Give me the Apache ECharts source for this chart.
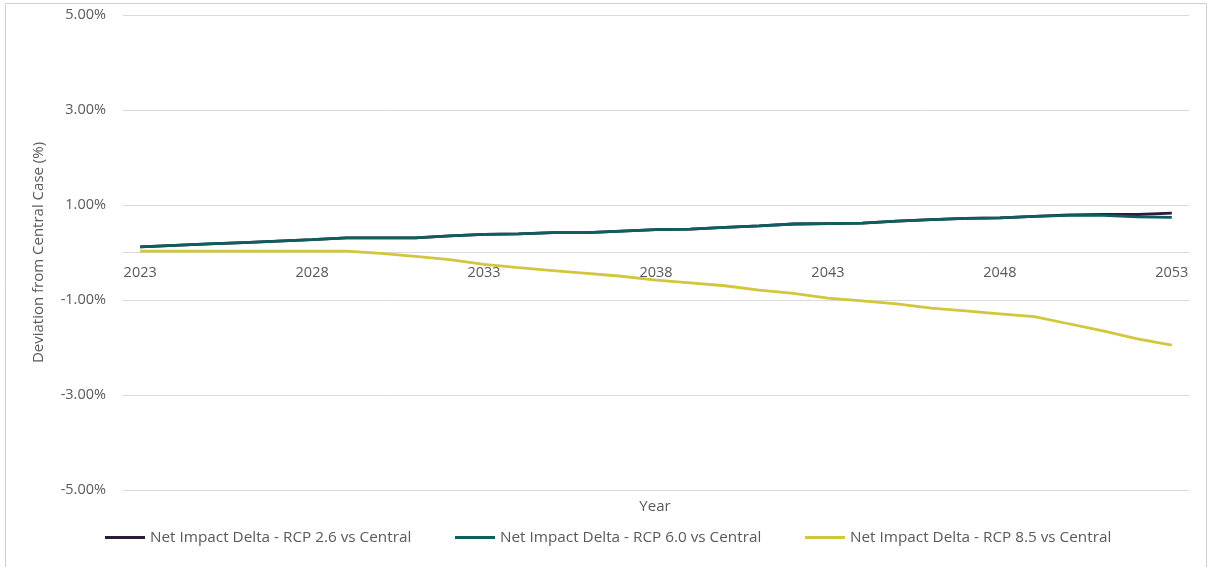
<!DOCTYPE html>
<html>
<head>
<meta charset="utf-8">
<script src="https://cdn.jsdelivr.net/npm/echarts@6/dist/echarts.min.js"></script>
<style>html,body{margin:0;padding:0;background:#fff}#c{width:1211px;height:567px}</style>
</head>
<body>
<div id="c"></div>
<script>
const years = [];
for (let y = 2023; y <= 2053; y++) years.push(String(y));
const seriesNames = ['Net Impact Delta - RCP 2.6 vs Central','Net Impact Delta - RCP 6.0 vs Central','Net Impact Delta - RCP 8.5 vs Central'];
const rcp26 = [0.12,0.15,0.18,0.21,0.24,0.27,0.31,0.31,0.31,0.35,0.38,0.39,0.42,0.42,0.45,0.48,0.49,0.53,0.56,0.60,0.61,0.62,0.66,0.69,0.72,0.73,0.76,0.79,0.80,0.80,0.83];
const rcp60 = [0.12,0.15,0.18,0.21,0.24,0.27,0.31,0.31,0.31,0.35,0.38,0.39,0.42,0.42,0.45,0.48,0.49,0.53,0.56,0.60,0.61,0.62,0.66,0.69,0.72,0.73,0.76,0.78,0.78,0.75,0.74];
const rcp85 = [0.03,0.03,0.03,0.03,0.03,0.03,0.03,-0.02,-0.08,-0.15,-0.25,-0.32,-0.38,-0.44,-0.50,-0.58,-0.64,-0.70,-0.79,-0.86,-0.96,-1.02,-1.08,-1.17,-1.23,-1.29,-1.35,-1.50,-1.65,-1.82,-1.95];
const yTicks = [-5,-3,-1,1,3,5];
const colors = ['#2e1a40','#0e5e5e','#d2c63c'];
const font = 'Open Sans';
const txt = '#595959';

const gridTop = 15, gridBottom = 77, H = 567;
const plotH = H - gridTop - gridBottom;
const yMin = -5, yMax = 5;
// pixel distance from the plot bottom to the zero line, from the axis range
const zeroOffset = plotH * (0 - yMin) / (yMax - yMin);

const chart = echarts.init(document.getElementById('c'));
const legendBase = (i, left) => ({
  left: left, top: 530, padding: 0, data: [seriesNames[i]], icon: 'rect', itemWidth: 40, itemHeight: 3,
  textStyle: {color: txt, fontSize: 15.3, fontFamily: font}
});
chart.setOption({
  animation: false,
  color: colors,
  textStyle: {fontFamily: font},
  grid: {left: 123, right: 22, top: gridTop, bottom: gridBottom, containLabel: false},
  graphic: [
    {type: 'rect', shape: {x: 5.5, y: 3.5, width: 1201, height: 600}, style: {fill: 'none', stroke: '#d0d0d0', lineWidth: 1}, silent: true},
    {type: 'text', style: {x: 655, y: 507, text: 'Year', fill: txt, font: '15px "Open Sans"', align: 'center', verticalAlign: 'middle'}}
  ],
  legend: [legendBase(0, 105), legendBase(1, 455), legendBase(2, 805)],
  xAxis: {
    type: 'category', data: years, boundaryGap: true, position: 'bottom', offset: -zeroOffset,
    axisLine: {show: true, onZero: false, lineStyle: {color: '#d9d9d9', width: 1}},
    axisTick: {show: false},
    axisLabel: {interval: 4, color: txt, fontSize: 14.5, fontFamily: font, margin: 13}
  },
  yAxis: {
    type: 'value', min: yMin, max: yMax, interval: 2,
    name: 'Deviation from Central Case (%)', nameLocation: 'middle', nameGap: 77,
    nameTextStyle: {color: txt, fontSize: 15, fontFamily: font},
    axisLine: {show: false}, axisTick: {show: false},
    axisLabel: {color: txt, fontSize: 14.5, fontFamily: font, margin: 17,
      formatter: v => yTicks.includes(v) ? v.toFixed(2) + '%' : ''},
    splitLine: {lineStyle: {color: '#d9d9d9', width: 1}}
  },
  series: [
    {name: seriesNames[0], type: 'line', data: rcp26, symbol: 'none', lineStyle: {width: 2.8, color: colors[0]}, z: 2},
    {name: seriesNames[1], type: 'line', data: rcp60, symbol: 'none', lineStyle: {width: 2.8, color: colors[1]}, z: 3},
    {name: seriesNames[2], type: 'line', data: rcp85, symbol: 'none', lineStyle: {width: 2.8, color: colors[2]}, z: 2}
  ]
});
</script>
</body>
</html>
